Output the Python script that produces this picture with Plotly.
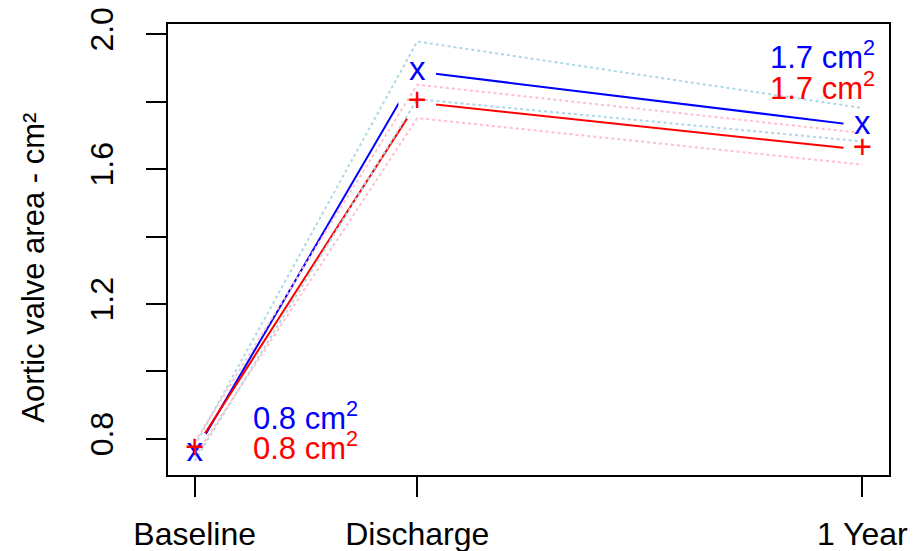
import plotly.graph_objects as go

# ---- data ----
x_vals = [0, 1, 3]
x_labels = ["Baseline", "Discharge", "1 Year"]

blue_mean = [0.758, 1.889, 1.728]
blue_lo = [0.735, 1.807, 1.682]
blue_hi = [0.780, 1.978, 1.781]

red_mean = [0.769, 1.797, 1.657]
red_lo = [0.748, 1.751, 1.613]
red_hi = [0.790, 1.850, 1.707]

y_tickvals = [0.8, 1.0, 1.2, 1.4, 1.6, 1.8, 2.0]
y_ticktext = ["0.8", "", "1.2", "", "1.6", "", "2.0"]

y_title = "Aortic valve area - cm²"

FONT = "Liberation Sans, Arial, sans-serif"
BLUE = "#0000FF"
RED = "#FF0000"
LBLUE = "#ADD8E6"
PINK = "#FFC0CB"

fig = go.Figure()

# solid mean lines
for ys, col in [(blue_mean, BLUE), (red_mean, RED)]:
    fig.add_trace(go.Scatter(x=x_vals, y=ys, mode="lines",
                             line=dict(color=col, width=2), hoverinfo="skip"))

# white discs to create the type="b" gaps around points
fig.add_trace(go.Scatter(x=x_vals + x_vals, y=blue_mean + red_mean, mode="markers",
                         marker=dict(color="white", size=38, line=dict(width=0)),
                         hoverinfo="skip"))

# dotted confidence lines
for ys, col in [(blue_hi, LBLUE), (blue_lo, LBLUE), (red_hi, PINK), (red_lo, PINK)]:
    fig.add_trace(go.Scatter(x=x_vals, y=ys, mode="lines",
                             line=dict(color=col, width=2, dash="3px,3px"),
                             hoverinfo="skip"))

# point characters
fig.add_trace(go.Scatter(x=x_vals, y=blue_mean, mode="text", text=["x"] * 3,
                         textposition="middle center",
                         textfont=dict(family=FONT, size=33, color=BLUE)))
fig.add_trace(go.Scatter(x=x_vals, y=red_mean, mode="text", text=["+"] * 3,
                         textposition="middle center",
                         textfont=dict(family=FONT, size=33, color=RED)))

# value labels
LBL = 31
fig.add_annotation(x=0.254, y=0.867, text=f"{blue_mean[0]:.1f} cm<sup>2</sup>",
                   xanchor="left", yanchor="middle", showarrow=False,
                   font=dict(family=FONT, size=LBL, color=BLUE))
fig.add_annotation(x=0.254, y=0.778, text=f"{red_mean[0]:.1f} cm<sup>2</sup>",
                   xanchor="left", yanchor="middle", showarrow=False,
                   font=dict(family=FONT, size=LBL, color=RED))
fig.add_annotation(x=3.066, y=1.937, text=f"{blue_mean[2]:.1f} cm<sup>2</sup>",
                   xanchor="right", yanchor="middle", showarrow=False,
                   font=dict(family=FONT, size=LBL, color=BLUE))
fig.add_annotation(x=3.066, y=1.845, text=f"{red_mean[2]:.1f} cm<sup>2</sup>",
                   xanchor="right", yanchor="middle", showarrow=False,
                   font=dict(family=FONT, size=LBL, color=RED))

# y axis title
fig.add_annotation(x=-0.187, y=0.46, xref="paper", yref="paper", text=y_title,
                   textangle=-90, showarrow=False, xanchor="center", yanchor="middle",
                   font=dict(family=FONT, size=31, color="black"))

fig.update_layout(
    width=917, height=551,
    margin=dict(l=168, r=28, t=24, b=76, autoexpand=False),
    paper_bgcolor="white", plot_bgcolor="white",
    showlegend=False,
    font=dict(family=FONT, size=31, color="black"),
    xaxis=dict(range=[-0.12, 3.12], tickvals=x_vals, ticktext=x_labels,
               showgrid=False, zeroline=False, showline=True, mirror=True,
               linecolor="black", linewidth=2, ticks="outside", ticklen=20,
               tickwidth=2, tickcolor="black", ticklabelstandoff=10, automargin=False,
               tickfont=dict(family=FONT, size=32, color="black")),
    yaxis=dict(range=[0.693, 2.030], tickvals=y_tickvals, ticktext=y_ticktext,
               showgrid=False, zeroline=False, showline=True, mirror=True,
               linecolor="black", linewidth=2, ticks="outside", ticklen=20,
               tickwidth=2, tickcolor="black", tickangle=-90, ticklabelstandoff=20,
               automargin=False,
               tickfont=dict(family=FONT, size=32, color="black")),
)

fig.write_html("out.html")
